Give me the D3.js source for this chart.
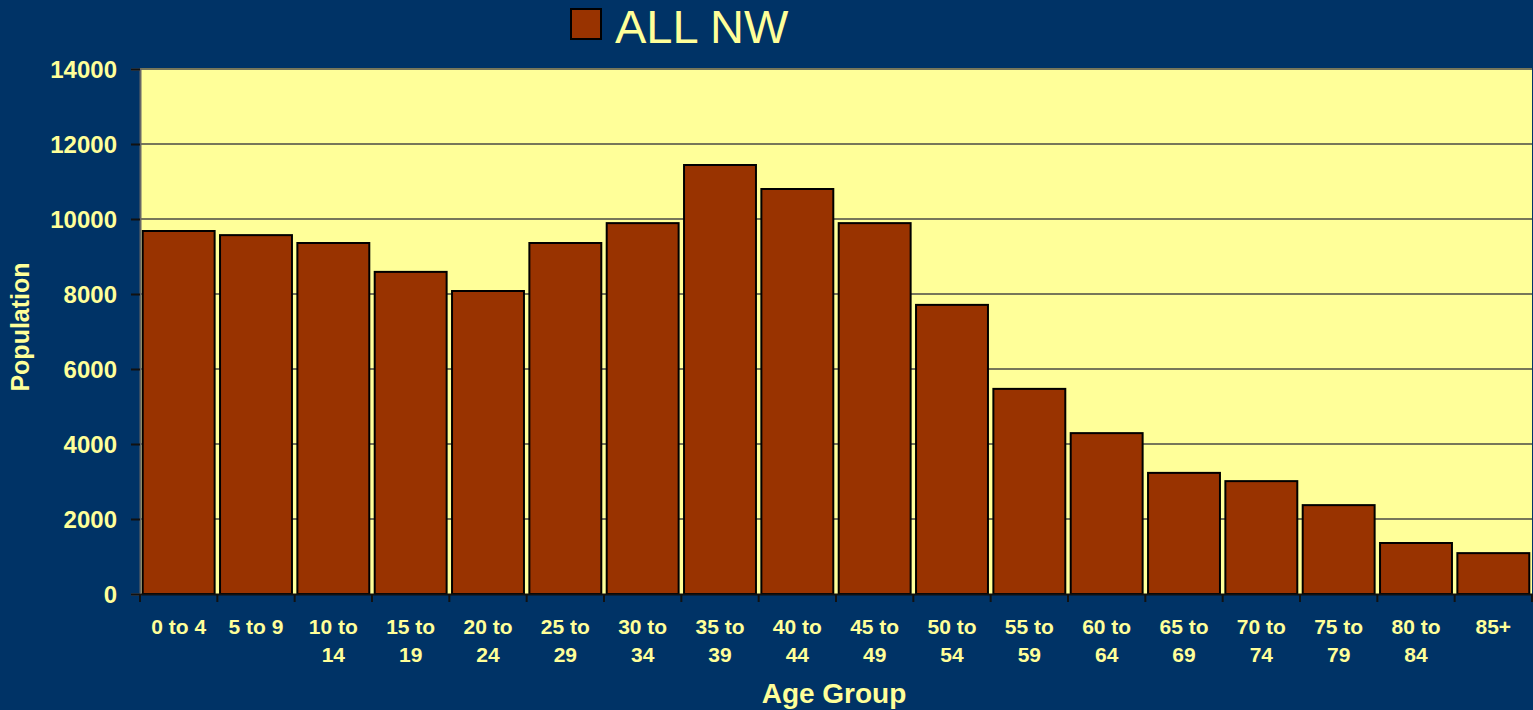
<!DOCTYPE html>
<html lang="en">
<head>
<meta charset="utf-8">
<style type="text/css">
  body { margin: 0; background: #003366; }
  svg { display: block; font-family: "Liberation Sans", Arial, sans-serif; }
  .tick text { fill: #ffff99; font-weight: bold; font-size: 24px; }
  .grid line { stroke: #77775a; stroke-width: 2px; }
</style>
</head>
<body>
<svg width="1533" height="710"></svg>
<script src="https://d3js.org/d3.v7.min.js"></script>
<script type="text/javascript">
  // age groups and population counts
  var ageGroups = ["0 to 4", "5 to 9", "10 to 14", "15 to 19", "20 to 24", "25 to 29",
                   "30 to 34", "35 to 39", "40 to 44", "45 to 49", "50 to 54", "55 to 59",
                   "60 to 64", "65 to 69", "70 to 74", "75 to 79", "80 to 84", "85+"];
  var population = [9680, 9570, 9360, 8590, 8080, 9360, 9890, 11440, 10800, 9890,
                    7710, 5470, 4290, 3230, 3010, 2370, 1360, 1090];
  var yTicks = [0, 2000, 4000, 6000, 8000, 10000, 12000, 14000];
  var seriesName = "ALL NW";

  var svg = d3.select("svg"),
      margin = {top: 69, right: 1, bottom: 116, left: 140},
      width = +svg.attr("width") - margin.left - margin.right,
      height = +svg.attr("height") - margin.top - margin.bottom;

  var x = d3.scaleBand().domain(ageGroups).range([0, width])
      .paddingInner(0.07).paddingOuter(0.035);
  var y = d3.scaleLinear().domain([0, 14000]).range([height, 0]);

  var g = svg.append("g").attr("transform", "translate(" + margin.left + "," + margin.top + ")");

  // plot background
  g.append("rect").attr("width", width).attr("height", height).attr("fill", "#ffff99");

  // gridlines
  g.append("g").attr("class", "grid")
    .selectAll("line").data(yTicks.slice(1))
    .enter().append("line")
    .attr("x1", 0).attr("x2", width)
    .attr("y1", function (d) { return y(d); })
    .attr("y2", function (d) { return y(d); });

  // bars
  g.selectAll(".bar").data(population)
    .enter().append("rect")
    .attr("class", "bar")
    .attr("x", function (d, i) { return x(ageGroups[i]); })
    .attr("y", function (d) { return y(d); })
    .attr("width", x.bandwidth())
    .attr("height", function (d) { return height - y(d); })
    .attr("fill", "#993300")
    .attr("stroke", "#000")
    .attr("stroke-width", 2);

  // y axis
  var yAxis = g.append("g")
    .call(d3.axisLeft(y).tickValues(yTicks).tickSize(9).tickPadding(14).tickFormat(d3.format("d")));
  yAxis.select(".domain").attr("stroke", "#666").attr("stroke-width", 2);
  yAxis.selectAll(".tick line").attr("stroke", "#111").attr("stroke-width", 2);
  yAxis.selectAll(".tick text").attr("dy", "0.36em");

  // x axis
  var xAxis = g.append("g").attr("transform", "translate(0," + height + ")")
    .call(d3.axisBottom(x).tickSize(0).tickPadding(0));
  xAxis.select(".domain").attr("stroke", "#111").attr("stroke-width", 2);
  xAxis.selectAll(".tick text").remove();

  // category boundary ticks
  xAxis.selectAll(".sep").data(ageGroups.concat([null]))
    .enter().append("line")
    .attr("x1", function (d, i) { return i * x.step(); })
    .attr("x2", function (d, i) { return i * x.step(); })
    .attr("y1", 0).attr("y2", 8)
    .attr("stroke", "#111").attr("stroke-width", 2);

  // wrapped category labels
  xAxis.selectAll(".lbl").data(ageGroups)
    .enter().append("text")
    .attr("class", "lbl")
    .attr("text-anchor", "middle")
    .attr("fill", "#ffff99")
    .attr("font-weight", "bold")
    .attr("font-size", 21)
    .each(function (d) {
      var parts = d.indexOf(" to ") > 0 ? d.split(/ to /) : [d];
      var t = d3.select(this);
      var cx = x(d) + x.bandwidth() / 2;
      if (parts.length === 1 || d.length <= 6) {
        t.append("tspan").attr("x", cx).attr("y", 40).text(d);
      } else {
        t.append("tspan").attr("x", cx).attr("y", 40).text(parts[0] + " to");
        t.append("tspan").attr("x", cx).attr("y", 68).text(parts[1]);
      }
    });

  // axis titles
  svg.append("text")
    .attr("x", 834).attr("y", 703)
    .attr("text-anchor", "middle")
    .attr("fill", "#ffff99").attr("font-weight", "bold").attr("font-size", 28)
    .text("Age Group");

  svg.append("text")
    .attr("transform", "translate(29,327) rotate(-90)")
    .attr("text-anchor", "middle")
    .attr("fill", "#ffff99").attr("font-weight", "bold").attr("font-size", 25)
    .text("Population");

  // legend
  var legend = svg.append("g").attr("transform", "translate(571,9)");
  legend.append("rect").attr("width", 30).attr("height", 30)
    .attr("fill", "#993300").attr("stroke", "#000").attr("stroke-width", 2);
  legend.append("text").attr("x", 44).attr("y", 34)
    .attr("fill", "#ffff99").attr("font-size", 47)
    .text(seriesName);
</script>
</body>
</html>
